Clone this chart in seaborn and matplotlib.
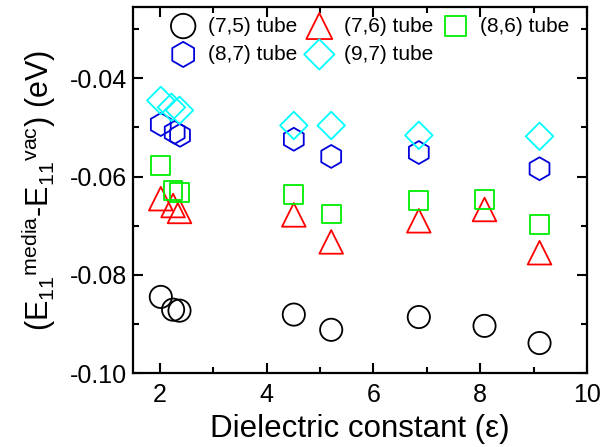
import matplotlib
matplotlib.use("Agg")
import matplotlib.pyplot as plt
import seaborn as sns
import pandas as pd
from matplotlib.ticker import MultipleLocator, FormatStrFormatter

sns.set_style("ticks")
plt.rcParams['font.family'] = ['Liberation Sans', 'DejaVu Sans']
plt.rcParams['axes.unicode_minus'] = False
plt.rcParams['mathtext.fontset'] = 'custom'
plt.rcParams['mathtext.rm'] = 'Liberation Sans'
plt.rcParams['mathtext.it'] = 'Liberation Sans:italic'
for k in ['text.color', 'axes.labelcolor', 'xtick.color', 'ytick.color', 'axes.edgecolor']:
    plt.rcParams[k] = 'black'

# data
eps_75 = [2.02, 2.25, 2.37, 4.51, 5.21, 6.85, 8.08, 9.11]
val_75 = [-0.0845, -0.0871, -0.0873, -0.0881, -0.0912, -0.0886, -0.0904, -0.0939]

eps_76 = [2.02, 2.25, 2.37, 4.51, 5.21, 6.85, 8.08, 9.11]
val_76 = [-0.0645, -0.0659, -0.0671, -0.0678, -0.0733, -0.0690, -0.0667, -0.0755]

eps_86 = [2.02, 2.25, 2.37, 4.51, 5.21, 6.85, 8.08, 9.11]
val_86 = [-0.0578, -0.0629, -0.0633, -0.0637, -0.0676, -0.0649, -0.0647, -0.0698]

eps_87 = [2.02, 2.28, 2.38, 4.51, 5.21, 6.85, 9.11]
val_87 = [-0.0494, -0.0510, -0.0516, -0.0524, -0.0559, -0.0551, -0.0584]

eps_97 = [2.02, 2.22, 2.37, 4.51, 5.21, 6.85, 9.11]
val_97 = [-0.0445, -0.0459, -0.0465, -0.0496, -0.0496, -0.0516, -0.0518]

labels = ["(7,5) tube", "(7,6) tube", "(8,6) tube", "(8,7) tube", "(9,7) tube"]
xticks = [2, 4, 6, 8, 10]
yticks = [-0.10, -0.08, -0.06, -0.04]

series = [
    (labels[0], eps_75, val_75, 'o', 'black', 16),
    (labels[1], eps_76, val_76, '^', 'red', 17),
    (labels[2], eps_86, val_86, 's', '#00ee00', 13.5),
    (labels[3], eps_87, val_87, 'h', '#0000dd', 16.5),
    (labels[4], eps_97, val_97, 'D', 'cyan', 14),
]

fig = plt.figure(figsize=(6.03, 4.47), dpi=100)
ax = fig.add_axes([0.2206, 0.1655, 0.753, 0.8185])

for lab, xs, ys, m, c, ms in series:
    df = pd.DataFrame({"x": xs, "y": ys})
    sns.scatterplot(data=df, x="x", y="y", ax=ax, marker=m, s=ms**2,
                    facecolors='none', edgecolors=c, linewidths=1.3,
                    label=lab, zorder=3)

ax.set_xlim(1.5, 10)
ax.set_ylim(-0.1, -0.0255)
ax.set_xticks(xticks)
ax.set_yticks(yticks)
ax.xaxis.set_minor_locator(MultipleLocator(1))
ax.yaxis.set_minor_locator(MultipleLocator(0.01))
ax.yaxis.set_major_formatter(FormatStrFormatter('%.2f'))
ax.tick_params(which='both', direction='in', top=True, right=True, width=1.5, labelsize=18)
ax.tick_params(which='major', length=7)
ax.tick_params(axis='x', which='major', pad=7)
ax.tick_params(axis='y', which='major', pad=4)
ax.tick_params(which='minor', length=4)
for sp in ax.spines.values():
    sp.set_linewidth(1.6)
    sp.set_color('black')

ax.set_xlabel("Dielectric constant (\u03b5)", fontsize=22.5, labelpad=5)
ax.set_ylabel(r"(E$_{\mathregular{11}}$$^{\mathregular{media}}$-E$_{\mathregular{11}}$$^{\mathregular{vac}}$) (eV)",
              fontsize=22, labelpad=9)

h, l = ax.get_legend_handles_labels()
d = dict(zip(l, h))
order = [labels[0], labels[3], labels[1], labels[4], labels[2]]
ax.legend([d[k] for k in order], order, ncol=3, loc='upper left',
          bbox_to_anchor=(0.06, 1.0), frameon=False, fontsize=15,
          handletextpad=0.55, columnspacing=0.4, labelspacing=0.45,
          borderaxespad=0.05, handlelength=1.3, markerscale=1.1)

fig.savefig("out.png", dpi=100)
